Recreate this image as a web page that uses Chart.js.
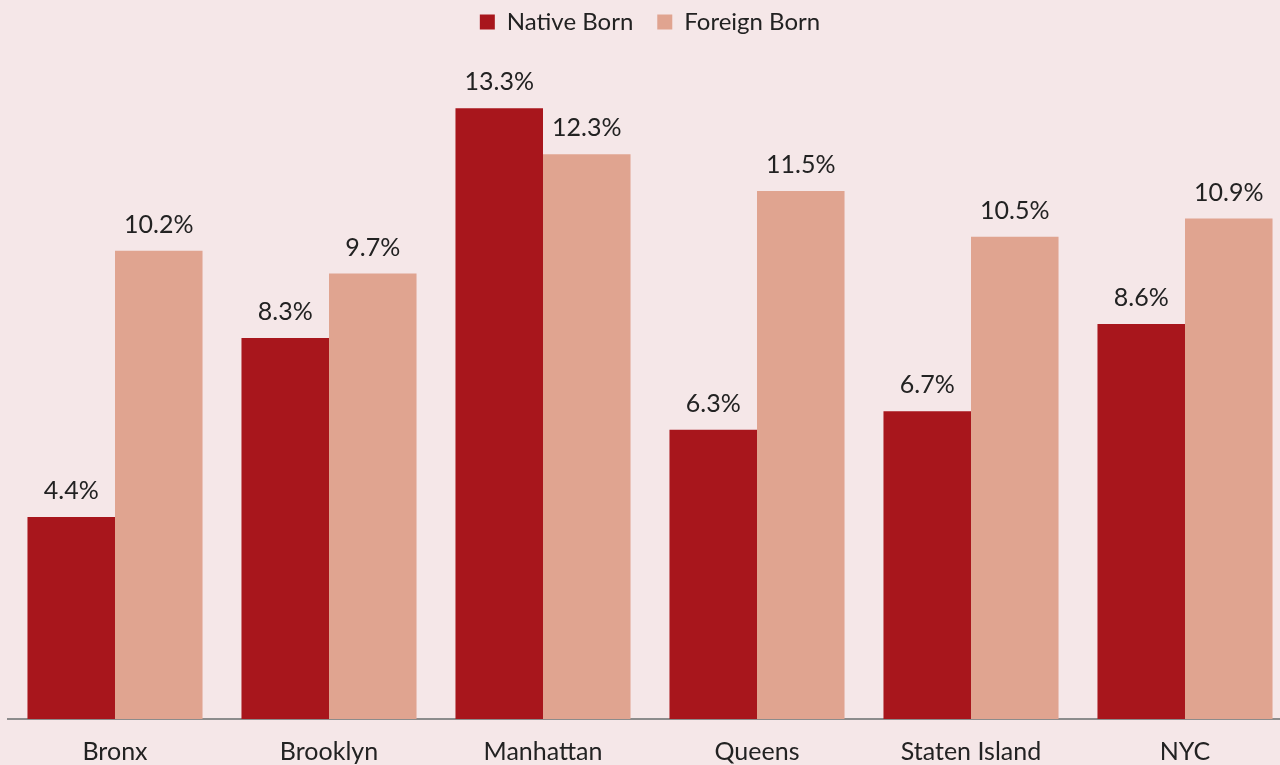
<!DOCTYPE html>
<html>
<head>
<meta charset="utf-8">
<script src="https://cdn.jsdelivr.net/npm/chart.js@4"></script>
<style>
  html, body { margin:0; padding:0; background:#f5e7e8; overflow:hidden; }
  #wrap { position:relative; width:1300px; height:785px; }
</style>
</head>
<body>
<div id="wrap"><canvas id="c"></canvas></div>
<script>
const categories = ["Bronx", "Brooklyn", "Manhattan", "Queens", "Staten Island", "NYC"];
const nativeBorn = [4.4, 8.3, 13.3, 6.3, 6.7, 8.6];
const foreignBorn = [10.2, 9.7, 12.3, 11.5, 10.5, 10.9];
const seriesNames = ["Native Born", "Foreign Born"];

const FONT = "Lato, 'Open Sans', sans-serif";

const valueLabels = {
  id: 'valueLabels',
  afterDatasetsDraw(chart) {
    const ctx = chart.ctx;
    ctx.save();
    ctx.font = "25px " + FONT;
    ctx.fillStyle = "#222";
    ctx.textAlign = "center";
    ctx.textBaseline = "middle";
    chart.data.datasets.forEach((ds, i) => {
      chart.getDatasetMeta(i).data.forEach((bar, j) => {
        ctx.fillText(ds.data[j].toFixed(1) + "%", bar.x, bar.y - 26);
      });
    });
    ctx.restore();
  }
};

new Chart(document.getElementById('c'), {
  type: 'bar',
  data: {
    labels: categories,
    datasets: [
      { label: seriesNames[0], data: nativeBorn, backgroundColor: '#a8161c' },
      { label: seriesNames[1], data: foreignBorn, backgroundColor: '#e0a490' }
    ]
  },
  options: {
    responsive: true,
    maintainAspectRatio: false,
    animation: false,
    layout: { padding: { left: 8, right: 8, top: -14, bottom: 0 } },
    datasets: { bar: { categoryPercentage: 0.818, barPercentage: 1.0 } },
    plugins: {
      legend: {
        display: true,
        position: 'top',
        align: 'center',
        labels: {
          font: { family: FONT, size: 24 },
          color: '#222',
          boxWidth: 15,
          boxHeight: 15,
          padding: 24
        }
      },
      tooltip: { enabled: false }
    },
    scales: {
      x: {
        grid: { display: false, drawTicks: false },
        border: { display: true, color: '#8c8c8c', width: 2 },
        ticks: { font: { family: FONT, size: 25 }, color: '#222', padding: 18 }
      },
      y: {
        display: false,
        min: 0,
        max: 14.7
      }
    }
  },
  plugins: [valueLabels]
});
</script>
</body>
</html>
